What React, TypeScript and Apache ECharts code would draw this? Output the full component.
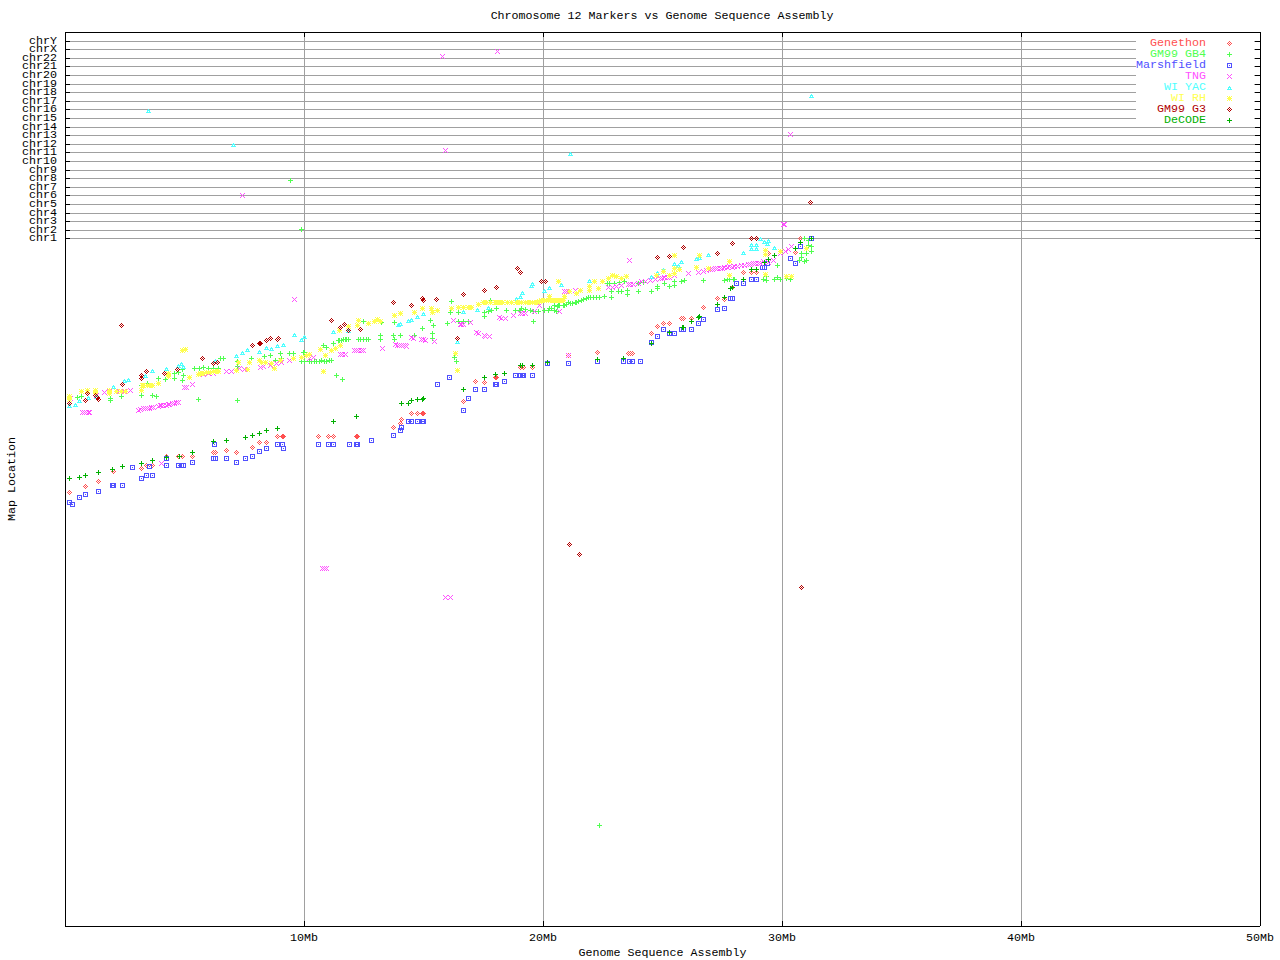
import React, { useEffect, useRef } from "react";
import * as echarts from "echarts";

const FONT = "'Liberation Mono', 'DejaVu Sans Mono', monospace";
const FONT_SIZE = 11.67;

const titleText = "Chromosome 12 Markers vs Genome Sequence Assembly";
const xName = "Genome Sequence Assembly";
const yName = "Map Location";

const chromosomes = ["chrY","chrX","chr22","chr21","chr20","chr19","chr18","chr17","chr16","chr15","chr14","chr13","chr12","chr11","chr10","chr9","chr8","chr7","chr6","chr5","chr4","chr3","chr2","chr1"];
const chromosomeLevels = [885,877,868,860,851,842,834,825,817,808,799,791,782,774,765,756,748,739,731,722,713,705,696,688];

const genethon = [[0.18,433.7],[0.85,439.7],[1.39,444.7],[2.02,454.7],[3.19,457.7],[3.40,460.7],[3.65,460.7],[4.24,469.7],[4.74,469.7],[4.91,469.7],[5.33,469.7],[6.20,473.7],[6.29,473.7],[6.75,475.7],[7.17,473.7],[7.84,478.7],[8.13,483.7],[8.42,483.7],[8.88,489.7],[9.09,489.7],[9.13,489.7],[10.60,489.7],[11.02,489.7],[11.23,489.7],[12.19,489.7],[12.23,489.7],[13.74,498.7],[14.03,502.7],[14.07,506.7],[14.49,512.7],[14.74,512.7],[14.95,512.7],[14.99,512.7],[16.67,524.7],[17.17,544.7],[17.54,543.7],[18.00,548.7],[18.04,548.7],[19.05,558.7],[19.18,558.7],[19.55,558.7],[21.06,570.7],[22.27,573.7],[23.58,572.7],[23.65,572.7],[23.74,572.7],[24.53,592.7],[24.78,599.7],[25.03,602.7],[25.28,602.7],[25.79,607.7],[25.87,607.7],[26.20,607.7],[26.71,618.7],[27.29,627.7],[27.59,626.7],[27.92,638.7],[28.38,653.7],[28.71,653.7],[28.92,653.7],[29.43,672.7],[30.56,673.7],[30.76,687.7]];

const gm99Gb4 = [[9.43,745.7],[9.89,696.7],[22.35,100.7],[0.51,528.3],[0.70,530],[1.91,527.7],[1.91,526],[2.37,529.3],[3.21,531],[3.67,530.7],[3.82,529.7],[5.58,526.7],[7.21,525.7],[3.21,541],[3.44,542.7],[3.90,547.7],[4.21,546.7],[4.57,552.7],[4.57,547.7],[4.74,553.7],[4.91,556.7],[4.91,545.3],[4.95,550.7],[5.40,557.7],[5.61,557.7],[5.79,558.7],[5.99,557.7],[6.20,557.7],[6.41,557.7],[6.49,567.7],[6.62,567.7],[7.21,564.3],[7.21,559.3],[7.81,567.7],[8.33,569.3],[8.58,571],[8.79,566],[9.03,572.7],[9.07,567.7],[9.41,572.7],[9.58,572.7],[9.90,564.3],[10.04,573.3],[10.04,564.3],[10.25,564.3],[10.53,564.3],[9.97,573.3],[10.32,564.3],[10.53,565],[10.74,566],[10.95,565],[11.16,566],[10.81,580.7],[10.95,578.7],[11.23,582.7],[11.37,551],[11.60,546.7],[11.44,586],[11.58,586],[11.72,586.7],[11.85,587],[12.27,586.7],[12.48,586.7],[12.69,587],[13.18,591],[13.18,586.7],[12.51,604.3],[13.25,603.3],[13.74,591],[13.78,586.7],[14.03,590.3],[14.61,591],[15.37,592.7],[15.37,587.7],[13.78,603.7],[14.95,597.7],[15.30,605.3],[15.41,600.7],[15.99,602.7],[16.18,624.3],[16.14,613.3],[16.46,613.7],[16.29,568.7],[16.39,565],[16.46,604.3],[16.67,604.3],[16.87,604.3],[17.54,610],[17.54,613.7],[17.71,614.3],[17.85,616],[18.06,617.7],[17.82,626],[18.48,615.3],[18.83,615.3],[19.04,616],[19.11,617.7],[19.46,616],[19.59,614.3],[19.80,614.3],[20.08,615.3],[20.22,616],[20.50,616],[20.64,621],[20.85,621],[21.06,623.3],[19.59,604.7],[20.57,615],[20.29,617.7],[20.50,620.3],[20.71,620.3],[20.92,621],[21.13,622.7],[21.34,623.3],[21.48,624.3],[21.69,626.7],[21.90,628.3],[22.10,628.3],[22.38,628.3],[22.59,630],[22.69,642.7],[22.87,634.3],[22.87,628.7],[23.15,635],[23.29,634.3],[23.53,636],[23.53,631.7],[22.80,642.7],[23.01,642.7],[23.22,643.3],[23.43,644.3],[23.99,634.3],[23.99,642.7],[24.20,643.7],[24.55,635],[24.78,639.3],[24.78,637.7],[25.07,642.7],[25.28,640],[25.49,645],[25.49,641],[25.80,645],[25.91,645.3],[26.71,645.7],[27.59,646],[27.82,646.7],[28.03,647],[29.22,647],[29.36,646],[29.36,649.3],[29.67,647],[29.80,648.7],[29.94,647],[30.20,647.7],[30.36,647],[29.80,661],[30.82,668.7],[30.75,666],[30.96,665],[31.03,666],[31.24,674.3],[31.24,679.3],[31.03,672.7],[30.82,672.7],[30.96,687.7],[31.10,681],[31.10,686],[10.42,564.5],[10.65,565],[10.85,565],[11.05,565.5],[11.50,586],[11.65,586.3],[11.78,586.7],[12.35,586.7],[12.60,586.8],[19.00,616],[19.25,616.5],[20.35,618],[20.60,620],[21.00,622],[21.25,623],[21.40,624],[21.60,625.5],[21.80,627.5],[22.00,628.3],[22.25,628.3],[27.70,646.3],[27.95,646.8]];

const marshfield = [[0.18,423.7],[0.31,421.7],[0.60,428.7],[0.85,431.7],[1.39,434.7],[1.98,440.7],[2.02,440.7],[2.40,440.7],[2.82,458.7],[3.19,447.7],[3.40,450.7],[3.65,450.7],[3.53,459.7],[4.24,467.7],[4.24,460.7],[4.74,460.7],[4.87,460.7],[4.95,460.7],[5.33,463.7],[6.25,481.7],[6.20,467.7],[6.29,467.7],[6.75,467.7],[7.17,463.7],[7.54,467.7],[7.84,469.7],[8.13,474.7],[8.42,477.7],[8.88,481.7],[9.09,481.7],[9.13,477.7],[10.60,481.7],[11.02,481.7],[11.23,481.7],[11.89,481.7],[12.19,481.7],[12.23,481.7],[12.82,485.7],[13.74,490.7],[14.03,495.7],[14.07,498.7],[14.36,504.7],[14.49,504.7],[14.74,504.7],[14.95,504.7],[14.99,504.7],[16.67,515.7],[16.87,527.7],[15.58,541.7],[16.08,548.7],[17.17,536.7],[17.54,536.7],[18.00,541.7],[18.04,541.7],[18.38,544.7],[18.84,550.7],[19.05,550.7],[19.13,550.7],[19.18,550.7],[19.55,550.7],[20.18,562.7],[21.06,562.7],[22.27,564.7],[23.36,564.7],[23.61,564.7],[23.74,564.7],[24.07,564.7],[24.53,583.7],[24.78,589.7],[25.03,596.7],[25.28,592.7],[25.49,592.7],[25.79,596.7],[25.87,596.7],[26.20,596.7],[26.50,602.7],[26.71,606.7],[27.29,616.7],[27.59,617.7],[27.84,627.7],[27.92,627.7],[28.09,642.7],[28.38,642.7],[28.71,646.7],[28.92,646.7],[29.17,658.7],[29.26,658.7],[29.38,662.7],[30.35,667.7],[30.56,662.7],[30.76,679.7],[31.22,687.7]];

const tng = [[7.42,730.7],[15.79,869.7],[18.09,874.7],[15.91,776],[30.35,791.7],[30.06,701.5],[30.10,701.5],[9.62,627],[10.77,357.7],[10.85,357.7],[10.93,357.7],[15.94,329],[16.11,329],[0.75,514],[0.91,514],[1.03,514],[3.07,516],[3.27,517.3],[3.44,518],[3.60,519],[3.90,520],[4.05,521],[4.23,521],[4.39,522],[4.60,523],[4.74,524],[0.21,527.7],[1.33,531],[1.67,533.7],[1.88,535],[2.27,534.3],[2.51,534.3],[2.75,536],[4.99,538.7],[5.10,539],[5.33,541.7],[4.05,462.3],[5.79,551.7],[6.0,552.7],[6.20,552.7],[6.77,554.7],[6.97,555],[7.32,557.7],[7.49,556.7],[8.16,558.7],[8.30,560],[8.58,561],[8.86,562.7],[9.07,563.7],[9.41,566],[10.25,567.7],[10.39,568.7],[11.51,572],[11.72,571.7],[12.21,576],[12.41,576],[13.29,577.7],[13.81,582],[14.09,580.3],[14.23,580.3],[14.51,588.7],[14.92,586.7],[15.10,586],[15.48,584.3],[16.25,605.3],[16.53,602],[16.67,602],[16.95,603.7],[17.22,594],[17.54,590.7],[17.78,589.3],[18.16,608.3],[18.45,607.7],[18.76,610.7],[19.04,612.7],[19.25,612.7],[19.66,614.3],[19.87,621],[20.67,615],[20.71,615],[20.99,634.3],[20.92,634.3],[21.34,635.3],[21.55,636],[22.73,638.7],[23.08,639.7],[23.57,641.7],[23.78,641.7],[24.13,644.3],[24.48,646],[24.90,647.7],[25.10,648.3],[25.31,648.7],[25.52,651],[26.08,652.7],[26.50,653.7],[26.71,654.3],[26.99,656.7],[27.20,657.7],[27.41,657.7],[27.61,658.7],[27.82,659.3],[28.03,659.3],[28.31,660.7],[28.59,661.7],[28.80,662.7],[29.01,662.7],[29.22,664.3],[29.43,663.7],[29.64,666],[29.92,672.7],[30.13,675],[30.26,677],[30.40,679.3],[23.61,665.7],[21.06,571],[0.83,514],[0.97,514],[3.15,516.5],[3.35,517.5],[3.52,518],[3.70,519],[3.98,520.5],[4.14,521],[4.31,521.5],[4.49,522.5],[4.67,523.5],[11.60,572],[12.10,575.5],[12.30,576],[12.50,576],[13.90,581],[14.00,581],[14.15,580.5],[14.30,580],[14.60,587.5],[14.99,586.3],[16.60,602],[17.30,593],[17.60,590],[18.25,608],[19.15,612.7],[22.90,639],[23.30,640.5],[23.68,641.7],[24.00,643],[24.30,645],[24.70,647],[25.00,648],[25.20,648.5],[26.85,655.5],[27.10,657],[27.30,657.5],[27.50,658],[27.72,659],[27.92,659],[28.15,660],[28.45,661],[28.70,662],[28.90,662.7],[29.10,663]];

const wiYac = [[3.49,816],[7.04,782],[31.22,831],[21.14,773],[0.18,521],[0.46,521.7],[0.60,525.3],[0.97,528.7],[1.33,530],[2.02,539.3],[2.51,545.3],[2.65,546.3],[3.35,550.3],[3.65,556],[4.25,557.7],[4.74,560.3],[4.88,562.7],[4.95,559.3],[6.28,566],[7.18,571],[7.42,573.7],[7.63,576.7],[8.13,574.7],[8.44,578.7],[8.63,578],[8.88,581],[9.13,581.7],[9.59,592],[9.90,586.7],[10.01,590],[11.23,595],[11.85,596],[13.94,601.7],[14.02,602.7],[14.36,606],[14.50,606.7],[14.74,609.3],[14.99,612.7],[16.41,585],[16.67,614.3],[17.25,616.7],[17.71,618.7],[18.90,627.7],[19.07,630],[19.15,633.3],[19.53,641],[19.55,642.7],[20.08,636],[20.29,638.7],[20.78,642],[21.94,645.3],[24.55,649.3],[24.78,653.7],[25.03,656.7],[25.49,662.7],[25.66,660.3],[25.80,665],[26.43,667.7],[26.54,668.7],[26.92,671.7],[28.38,673.7],[28.73,681.7],[28.73,677.7],[28.92,681.7],[28.92,677.7],[29.12,687.7],[29.26,684.3],[29.43,685.3],[29.38,682.7],[29.67,678.3]];

const wiRh = [[0.18,530],[0.18,526.7],[0.68,534.3],[0.93,536],[1.26,536],[1.26,532.7],[1.88,536],[1.88,532.7],[2.16,534.3],[2.37,534.3],[2.54,534.3],[3.18,536],[3.23,540.7],[3.44,540.7],[3.67,540.7],[3.90,542.7],[4.32,552.7],[4.32,550],[4.91,576],[5.05,576.7],[5.23,548.7],[5.58,552],[5.79,552.7],[6.00,553.7],[6.20,554.3],[6.41,554.3],[7.25,563.7],[7.18,556],[7.63,556.7],[7.70,563.7],[8.12,566],[8.23,563.7],[8.37,563.7],[8.65,562.7],[8.76,557.7],[9.00,565.3],[9.55,567.7],[9.90,568.7],[10.11,571],[10.25,571.7],[10.70,576.7],[10.88,570.7],[10.81,554.7],[11.15,576],[11.30,577.7],[11.51,580.7],[11.48,596],[11.85,599.3],[12.23,601],[12.27,605.3],[12.69,602.7],[12.93,605],[13.07,607],[13.18,605],[13.78,611],[14.02,612.7],[14.61,613.3],[14.95,617.7],[15.33,617.7],[15.37,613.7],[15.58,616],[16.18,617.7],[16.33,572.7],[16.41,555.7],[16.46,618.7],[16.67,618.3],[16.87,618.3],[17.02,618.3],[17.29,621.7],[17.50,623.7],[17.64,623.7],[18.06,623.7],[18.20,623.7],[18.51,623.7],[18.90,623.7],[19.11,623.7],[19.46,623.7],[19.66,623.7],[19.94,626],[20.08,626],[20.22,626],[20.43,626],[20.85,626],[20.64,644.3],[20.29,630],[20.50,626],[20.71,626],[20.88,629.3],[21.10,634.3],[21.41,632.7],[21.55,635.3],[21.94,639.3],[21.94,636],[22.15,644.3],[22.31,637.7],[22.48,644.3],[22.73,647.7],[22.90,651],[23.08,649.3],[23.29,647.7],[23.50,649.3],[24.76,651],[25.03,655],[25.28,650.3],[25.49,671],[25.52,657.7],[25.73,657],[25.52,652.7],[26.43,658.3],[26.54,671],[26.92,657.7],[27.79,665],[27.79,651],[29.33,676],[29.29,671.7],[29.33,652],[30.20,649.3],[30.41,649.3],[29.94,675],[31.03,677.7],[17.80,623.7],[18.00,623.7],[18.30,623.7],[18.70,623.7],[19.00,623.7],[19.25,623.7],[19.35,623.7],[19.55,623.7],[19.75,623.7],[19.85,624.5],[20.15,626],[20.30,626],[20.60,626],[20.75,626],[3.30,540.7],[3.55,540.7],[5.68,552.3],[5.90,553.3],[6.10,554],[6.30,554.3]];

const gm99G3 = [[2.36,600.7],[0.18,522.7],[0.85,526],[0.93,532.7],[1.28,531],[1.35,528.3],[1.39,527],[2.40,541.7],[3.19,550.3],[3.19,547.7],[3.40,554.7],[4.15,552.7],[4.70,556.3],[5.74,567.7],[6.20,562.7],[6.37,563.7],[7.84,580.7],[8.12,583],[8.16,583],[8.44,585.7],[8.59,587.7],[8.88,586.7],[8.95,587.7],[11.14,605.7],[11.52,598.7],[11.69,601.7],[11.85,595.7],[12.36,596.3],[12.38,596.3],[13.74,623.7],[14.49,620.7],[14.95,627.7],[14.99,625.7],[15.53,626.7],[16.41,587.7],[16.67,631.7],[17.54,635.7],[18.04,638.7],[18.92,657.7],[19.05,653.7],[19.93,644.7],[20.10,644.7],[24.78,668.7],[25.28,669.7],[25.87,678.7],[27.29,672.7],[27.92,682.7],[28.71,687.7],[28.92,687.7],[31.18,723.7],[21.10,381.7],[21.51,371.7],[30.83,339]];

const decode = [[0.18,447.7],[0.60,448.7],[0.85,450.7],[1.39,453.7],[2.00,456.7],[2.40,459.7],[3.19,462.7],[3.65,465.7],[4.24,468.7],[4.78,469.7],[5.33,473.7],[6.20,484.7],[6.75,485.7],[7.54,488.7],[7.84,490.7],[8.13,492.7],[8.42,495.7],[8.88,497.7],[11.23,504.7],[12.19,509.7],[14.07,522.7],[14.36,522.7],[14.49,525.7],[14.74,526.7],[14.95,526.7],[14.99,527.7],[16.67,536.7],[17.54,548.7],[18.00,551.7],[18.38,552.7],[19.05,560.7],[19.13,560.7],[19.55,560.7],[20.18,563.7],[22.27,566.7],[23.36,567.7],[24.53,582.7],[25.28,593.7],[25.83,598.7],[25.87,598.7],[26.20,604.7],[26.50,608.7],[26.54,609.7],[27.29,621.7],[27.59,628.7],[27.84,637.7],[27.92,638.7],[28.38,646.7],[28.71,656.7],[28.92,656.7],[29.26,663.7],[29.43,666.7],[29.68,670.7],[30.56,677.7],[30.76,683.7],[31.22,687.7]];

// 5x5 pixel masks for the markers
const DIAMOND = ["..X..", ".X.X.", "X.X.X", ".X.X.", "..X.."];
const PLUS = ["..X..", "..X..", "XXXXX", "..X..", "..X.."];
const BOX = ["XXXXX", "X...X", "X.X.X", "X...X", "XXXXX"];
const CROSS = ["X...X", ".X.X.", "..X..", ".X.X.", "X...X"];
const TRIANGLE = [".....", "..X..", ".XXX.", ".X.X.", "XXXXX"];
const STAR = ["X.X.X", ".XXX.", "XXXXX", ".XXX.", "X.X.X"];

function maskPath(mask: string[], ox: number, oy: number, w: number, h: number) {
  let d = `M0 0M${w} ${h}`;
  mask.forEach((row, y) => {
    row.split("").forEach((c, x) => {
      if (c === "X") d += `M${x + ox} ${y + oy}h1v1h-1z`;
    });
  });
  return "path://" + d;
}

const seriesDefs = [
  { name: "Genethon", color: "#ff5050", mask: DIAMOND, data: genethon },
  { name: "GM99 GB4", color: "#50ff50", mask: PLUS, data: gm99Gb4 },
  { name: "Marshfield", color: "#5050ff", mask: BOX, data: marshfield },
  { name: "TNG", color: "#ff50ff", mask: CROSS, data: tng },
  { name: "WI YAC", color: "#50ffff", mask: TRIANGLE, data: wiYac },
  { name: "WI RH", color: "#ffff50", mask: STAR, data: wiRh },
  { name: "GM99 G3", color: "#b00000", mask: DIAMOND, data: gm99G3 },
  { name: "DeCODE", color: "#00b000", mask: PLUS, data: decode },
];

export default function App() {
  const ref = useRef<HTMLDivElement>(null);
  useEffect(() => {
    const chart = echarts.init(ref.current!, undefined, { renderer: "svg" });
    const text = { fontFamily: FONT, fontSize: FONT_SIZE, color: "#000" };
    const axisLine = { show: true, onZero: false, lineStyle: { color: "#000", width: 1 } };
    const tick = { show: true, inside: true, length: 5, lineStyle: { color: "#000", width: 1 } };
    const chrLabel = (values: number[]) => ({
      ...text,
      margin: 8,
      lineHeight: 8,
      hideOverlap: false,
      showMinLabel: true,
      showMaxLabel: true,
      customValues: values,
      formatter: (v: number) => chromosomes[chromosomeLevels.indexOf(v)] ?? "",
    });
    chart.setOption({
      animation: false,
      backgroundColor: "#fff",
      textStyle: { fontFamily: FONT },
      title: {
        text: titleText,
        left: 662,
        top: 10,
        textAlign: "center",
        padding: 0,
        textStyle: { ...text, fontWeight: "normal" },
      },
      grid: { left: 65, top: 32, width: 1195, height: 894, containLabel: false, outerBoundsMode: "none" },
      legend: {
        orient: "vertical",
        align: "right",
        right: 26,
        top: 37,
        padding: [0, 21, 0, 0],
        itemGap: -1,
        itemWidth: 22,
        itemHeight: 11,
        backgroundColor: "#fff",
        selectedMode: false,
        textStyle: { ...text, lineHeight: 11 },
        data: seriesDefs.map((s) => ({
          name: s.name,
          icon: maskPath(s.mask, 16, 3, 22, 11),
          textStyle: { ...text, lineHeight: 11, color: s.color },
        })),
      },
      xAxis: [
        {
          type: "value",
          min: 0,
          max: 50,
          interval: 10,
          name: xName,
          nameLocation: "middle",
          nameGap: 23,
          nameMoveOverlap: false,
          nameTextStyle: { ...text, lineHeight: 8 },
          axisLine,
          axisTick: tick,
          axisLabel: {
            ...text,
            margin: 6,
            formatter: (v: number) => (v === 0 ? "" : `${v}Mb`),
          },
          splitLine: { show: true, lineStyle: { color: "#a0a0a0", width: 1 } },
        },
        {
          type: "value",
          position: "top",
          min: 0,
          max: 50,
          interval: 10,
          axisLine,
          axisTick: tick,
          axisLabel: { show: false },
          splitLine: { show: false },
        },
      ],
      yAxis: [
        {
          type: "value",
          min: 0,
          max: 894,
          name: yName,
          nameLocation: "middle",
          nameGap: 49,
          nameMoveOverlap: false,
          nameRotate: 90,
          nameTextStyle: { ...text, lineHeight: 8 },
          axisLine,
          axisTick: { ...tick, customValues: chromosomeLevels },
          axisLabel: chrLabel(chromosomeLevels.filter((_, i) => i % 2 === 0)),
          splitLine: { show: true, lineStyle: { color: "#a0a0a0", width: 1 } },
        },
        {
          type: "value",
          position: "right",
          min: 0,
          max: 894,
          axisLine,
          axisTick: { ...tick, customValues: chromosomeLevels },
          axisLabel: { show: false },
          splitLine: { show: false },
        },
        {
          type: "value",
          position: "left",
          min: 0,
          max: 894,
          axisLine: { show: false, onZero: false },
          axisTick: { show: false },
          axisLabel: chrLabel(chromosomeLevels.filter((_, i) => i % 2 === 1)),
          splitLine: { show: false },
        },
      ],
      series: seriesDefs.map((s) => ({
        name: s.name,
        type: "scatter",
        symbol: maskPath(s.mask, 0, 0, 5, 5),
        symbolSize: 5,
        itemStyle: { color: s.color, opacity: 1, borderWidth: 0 },
        data: s.data,
        silent: true,
      })),
    });
    return () => chart.dispose();
  }, []);
  return (
    <div
      ref={ref}
      style={{ position: "absolute", left: 0, top: 0, width: 1280, height: 960, shapeRendering: "crispEdges", background: "#fff" }}
    />
  );
}
